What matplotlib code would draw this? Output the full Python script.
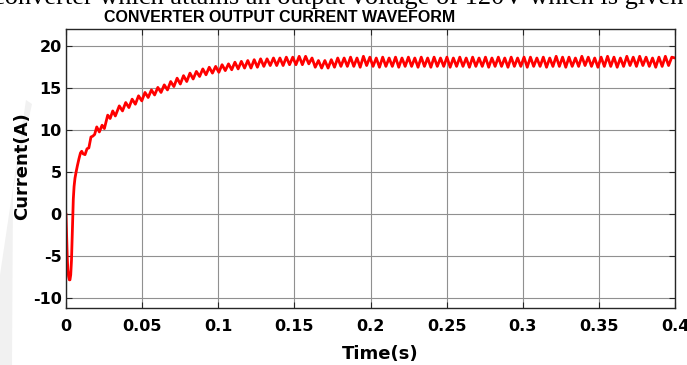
import numpy as np
import matplotlib
matplotlib.use("Agg")
import matplotlib.pyplot as plt
from matplotlib.patches import Polygon

# start-up transient (time s, current A)
t_start = [0, 0.0004, 0.0008, 0.0012, 0.0017, 0.0022, 0.0026, 0.0031, 0.0036, 0.004,
           0.0044, 0.0048, 0.0053, 0.0059, 0.0066, 0.0075, 0.0085, 0.0095, 0.0103, 0.0112,
           0.0125, 0.0138, 0.015, 0.0164, 0.0176, 0.0188, 0.0202, 0.0219, 0.0237, 0.0252,
           0.0274, 0.029, 0.0307, 0.0324]
i_start = [0, -2.5, -5.0, -6.6, -7.4, -7.8, -7.8, -7.2, -5.5, -3.2,
           -0.5, 1.8, 3.3, 4.3, 5.0, 5.8, 6.6, 7.3, 7.5, 7.2,
           7.1, 7.8, 7.9, 9.2, 9.3, 9.5, 10.4, 9.8, 10.6, 10.2,
           11.8, 11.4, 12.3, 11.7]

# ripple peaks / troughs from 0.035 s to 0.4 s (alternating)
i_ripple = [
    12.9, 12.3, 13.3, 12.7, 13.7, 13.1, 14.1, 13.5, 14.5, 13.9,
    14.8, 14.2, 15.1, 14.5, 15.4, 14.8, 15.8, 15.2, 16.2, 15.5,
    16.5, 15.8, 16.8, 16.1, 17.0, 16.4, 17.3, 16.6, 17.5, 16.8,
    17.6, 16.9, 17.8, 17.1, 17.9, 17.2, 18.1, 17.3, 18.2, 17.4,
    18.3, 17.4, 18.4, 17.5, 18.5, 17.6, 18.5, 17.7, 18.6, 17.7,
    18.6, 17.7, 18.7, 17.8, 18.7, 17.8, 18.8, 17.8, 18.8, 17.9,
    18.6, 17.5, 18.3, 17.4, 18.3, 17.4, 18.4, 17.5, 18.6, 17.6,
    18.6, 17.6, 18.7, 17.6, 18.6, 17.5, 18.8, 17.7, 18.7, 17.6,
    18.6, 17.5, 18.7, 17.6, 18.6, 17.6, 18.7, 17.5, 18.6, 17.6,
    18.7, 17.6, 18.6, 17.5, 18.7, 17.6, 18.6, 17.5, 18.7, 17.6,
    18.6, 17.6, 18.7, 17.5, 18.6, 17.6, 18.7, 17.6, 18.6, 17.5,
    18.7, 17.6, 18.6, 17.6, 18.7, 17.5, 18.6, 17.6, 18.7, 17.6,
    18.6, 17.5, 18.7, 17.6, 18.6, 17.6, 18.7, 17.5, 18.7, 17.6,
    18.6, 17.6, 18.7, 17.5, 18.6, 17.6, 18.8, 17.6, 18.7, 17.5,
    18.7, 17.6, 18.6, 17.6, 18.8, 17.7, 18.7, 17.6, 18.6, 17.5,
    18.7, 17.6, 18.8, 17.6, 18.7, 17.5, 18.6, 17.6, 18.8, 17.7,
    18.7, 17.6, 18.8, 17.7, 18.7, 17.6, 18.6, 17.5, 18.7, 17.6,
    18.8, 17.7, 18.7, 18.6,
]
t_ripple = np.linspace(0.035, 0.4, len(i_ripple))

x_ticks = [0, 0.05, 0.1, 0.15, 0.2, 0.25, 0.3, 0.35, 0.4]
x_labels = ["0", "0.05", "0.1", "0.15", "0.2", "0.25", "0.3", "0.35", "0.4"]
y_ticks = [-10, -5, 0, 5, 10, 15, 20]

t = np.concatenate([t_start, t_ripple])
i = np.concatenate([i_start, i_ripple])

plt.rcParams['font.family'] = ['DejaVu Sans']
plt.rcParams['axes.unicode_minus'] = False

W, H = 687, 365
fig = plt.figure(figsize=(W / 100, H / 100), dpi=100)

def px(x, y):
    # pixel position (from top-left) -> figure fraction
    return x / W, 1 - y / H

# faint watermark stroke at the left edge of the page
fig.patches.append(Polygon([px(0, 365), px(0, 275), px(26, 100), px(32, 104), px(13, 190), px(12, 365)],
                           closed=True, transform=fig.transFigure,
                           facecolor='#f1f1f1', edgecolor='none', zorder=0))

# cut-off sentence from the page above the figure
fig.text(*px(-7, 4), "converter which attains an output voltage of 120V which is given",
         family='Liberation Serif', fontsize=19, ha='left', va='baseline')

l, b = px(66, 308)
r, tp = px(675, 29)
ax = fig.add_axes([l, b, r - l, tp - b])
ax.plot(t, i, color='red', linewidth=2.0)

ax.set_xlim(0, 0.4)
ax.set_ylim(-11.15, 22.05)
ax.set_xticks(x_ticks)
ax.set_xticklabels(x_labels)
ax.set_yticks(y_ticks)
ax.grid(True, color='#909090', linewidth=0.8)
ax.tick_params(direction='in', length=4, width=0.8, top=True, right=True,
               labelsize=11.5, colors='#262626', labelcolor='black')
ax.tick_params(axis='x', pad=8)
ax.tick_params(axis='y', pad=3)
for lbl in ax.get_xticklabels() + ax.get_yticklabels():
    lbl.set_fontweight('bold')
for side in ax.spines:
    ax.spines[side].set_color('#262626')
    ax.spines[side].set_linewidth(1.0)

fig.text(*px(380, 354), "Time(s)", ha='center', va='center',
         fontsize=13, fontweight='bold')
fig.text(*px(22, 166), "Current(A)", ha='center', va='center',
         rotation=90, fontsize=13, fontweight='bold')
fig.text(*px(280, 18), "CONVERTER OUTPUT CURRENT WAVEFORM", ha='center',
         va='center', family='Liberation Sans', fontsize=11.5, fontweight='bold')

fig.savefig("out.png", dpi=100)
